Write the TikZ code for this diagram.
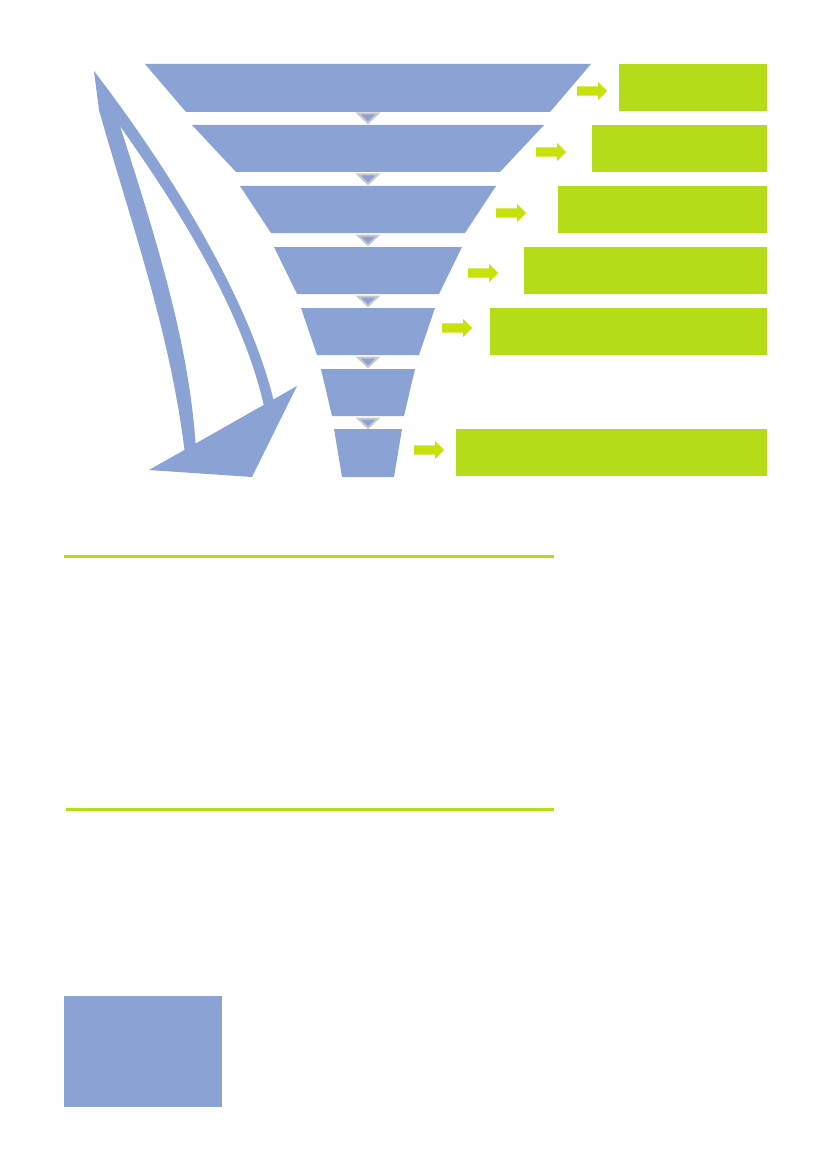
\documentclass[tikz,border=0pt]{standalone}
\usetikzlibrary{shapes.arrows}

\definecolor{funnelblue}{RGB}{139,162,213}
\definecolor{boxgreen}{RGB}{180,220,24}
\definecolor{arrowgreen}{RGB}{200,225,10}
\definecolor{tipgray}{RGB}{200,200,200}

\begin{document}
\begin{tikzpicture}[x = 1pt, y = -1pt,
                      level/.style = {fill = funnelblue},
                      stagebox/.style = {rectangle, fill = boxgreen, anchor = north west, inner sep = 0pt, minimum height = 47pt},
                      pointer/.style = {single arrow, fill = arrowgreen, minimum height = 30pt, minimum width = 18pt,
                                        single arrow head extend = 4.5pt, inner sep = 4.5pt, anchor = tail},
                      notch/.style = {fill = funnelblue, draw = tipgray, line width = 2pt, line join = miter}]
    \useasboundingbox (0, 0) rectangle (827, 1169);

    % funnel levels: top half width / bottom half width / top / bottom
    \foreach \tw/\bw/\ty/\by in {223/182/64/112, 176/132/125/172, 128/97/186/233, 94/71/247/294,
                                 67/51/308/355, 47/36/369/416, 34/26/429/477}
        \fill [level] (368-\tw, \ty) -- (368+\tw, \ty) -- (368+\bw, \by) -- (368-\bw, \by) -- cycle;

    % small notches between the levels
    \foreach \ny in {112, 173, 234, 295, 356, 417}
        \filldraw [notch] (358, \ny+1.5) -- (378, \ny+1.5) -- (368, \ny+11) -- cycle;

    % sailboat
    \fill [funnelblue] (94, 71) .. controls (170, 170) and (250, 300) .. (274, 402)
                       -- (264, 406) .. controls (240, 300) and (165, 190) .. (120, 126)
                       .. controls (160, 250) and (190, 350) .. (196, 450)
                       -- (185, 454) .. controls (170, 330) and (130, 220) .. (99, 110) -- cycle;
    \fill [funnelblue] (149, 470) -- (252, 477) -- (297, 386) -- cycle;

    % result boxes
    \node [stagebox, minimum width = 148pt] (box1) at (619, 64){};
    \node [stagebox, minimum width = 175pt] (box2) at (592, 125){};
    \node [stagebox, minimum width = 209pt] (box3) at (558, 186){};
    \node [stagebox, minimum width = 243pt] (box4) at (524, 247){};
    \node [stagebox, minimum width = 277pt] (box5) at (490, 308){};
    \node [stagebox, minimum width = 311pt] (box7) at (456, 429){};

    % arrows towards the boxes
    \node [pointer] (arr1) at (577, 91){};
    \node [pointer] (arr2) at (536, 152){};
    \node [pointer] (arr3) at (496, 213){};
    \node [pointer] (arr4) at (468, 273){};
    \node [pointer] (arr5) at (442, 328){};
    \node [pointer] (arr7) at (414, 450){};

    % rules and block
    \draw [boxgreen, line width = 3pt] (64, 556) -- (554, 556);
    \draw [boxgreen, line width = 3pt] (66, 809) -- (554, 809);
    \fill [funnelblue] (64, 996) rectangle (222, 1107);
\end{tikzpicture}
\end{document}
